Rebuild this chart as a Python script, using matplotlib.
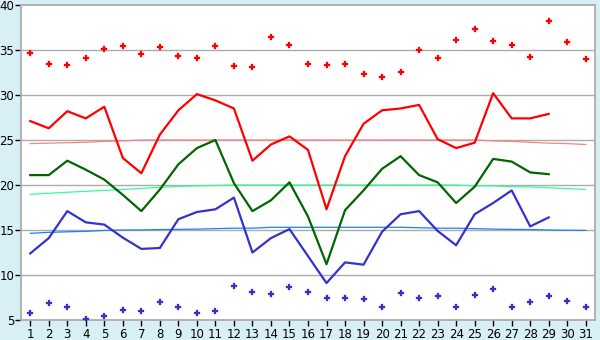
import matplotlib
matplotlib.use("Agg")
import matplotlib.pyplot as plt

days = list(range(1, 32))
max_points = [34.7, 33.5, 33.3, 34.1, 35.1, 35.4, 34.6, 35.3, 34.3, 34.1,
              35.5, 33.2, 33.1, 36.4, 35.6, 33.5, 33.3, 33.5, 32.3, 32.0,
              32.6, 35.0, 34.1, 36.1, 37.3, 36.0, 35.6, 34.2, 38.2, 35.9, 34.0]
min_points = [5.75, 6.85, 6.5, 5.07, 5.5, 6.07, 5.97, 6.97, 6.5, 5.75,
              5.97, 8.74, 8.07, 7.85, 8.63, 8.07, 7.4, 7.5, 7.3, 6.5,
              7.96, 7.4, 7.63, 6.4, 7.74, 8.4, 6.5, 6.97, 7.63, 7.07, 6.4]
max_line = [27.1, 26.3, 28.2, 27.4, 28.7, 23.0, 21.3, 25.6, 28.3, 30.1,
            29.4, 28.5, 22.7, 24.5, 25.4, 23.9, 17.3, 23.2, 26.8, 28.3,
            28.5, 28.9, 25.1, 24.1, 24.7, 30.2, 27.4, 27.4, 27.9]
mean_line = [21.1, 21.1, 22.7, 21.7, 20.6, 18.9, 17.1, 19.5, 22.3, 24.1,
             25.0, 20.2, 17.1, 18.3, 20.3, 16.5, 11.2, 17.2, 19.4, 21.8,
             23.2, 21.1, 20.3, 18.0, 19.8, 22.9, 22.6, 21.4, 21.2]
min_line = [12.4, 14.1, 17.1, 15.85, 15.6, 14.15, 12.9, 13.0, 16.2, 17.0,
            17.3, 18.6, 12.5, 14.1, 15.1, 12.1, 9.1, 11.4, 11.15, 14.8,
            16.75, 17.1, 14.9, 13.3, 16.75, 18.0, 19.4, 15.4, 16.4]
normal_max = [24.6, 24.65, 24.7, 24.75, 24.85, 24.9] + [25.0] * 19 + \
             [24.9, 24.85, 24.75, 24.65, 24.6, 24.5]
normal_mean = [18.97, 19.08, 19.19, 19.3, 19.4, 19.5, 19.63, 19.74, 19.85, 19.9,
               19.95] + [20.0] * 13 + [19.9, 19.9, 19.8, 19.8, 19.7, 19.6, 19.5]
normal_min = [14.63, 14.74, 14.8, 14.85, 14.95, 15.0, 15.0, 15.05, 15.07, 15.1,
              15.15, 15.2, 15.2, 15.3, 15.3, 15.3, 15.3, 15.3, 15.3, 15.3,
              15.3, 15.25, 15.2, 15.2, 15.15, 15.1, 15.07, 15.05, 15.0, 14.97, 14.96]
yticks = [5, 10, 15, 20, 25, 30, 35, 40]

bg = "#d9eff6"
fig = plt.figure(figsize=(6, 3.4), dpi=100, facecolor=bg)
ax = fig.add_axes([21/600, 20/340, 574/600, 315/340])
ax.set_facecolor("white")

for y in yticks[1:-1]:
    ax.axhline(y, color="#acacac", lw=1.0, zorder=1)

ax.plot(days, normal_max, color="#ff8080", lw=0.9, zorder=2)
ax.plot(days, normal_mean, color="#33ff99", lw=0.9, zorder=2)
ax.plot(days, normal_min, color="#1a80ff", lw=0.9, zorder=2)

n = len(max_line)
ax.plot(days[:n], max_line, color="#ff0000", lw=1.6, zorder=3)
ax.plot(days[:n], mean_line, color="#006600", lw=1.6, zorder=3)
ax.plot(days[:n], min_line, color="#3333cc", lw=1.6, zorder=3)

ax.plot(days, max_points, ls="none", marker="P", ms=4.2, color="#ff0000",
        mec="#ff0000", mew=0.2, zorder=4)
ax.plot(days, min_points, ls="none", marker="P", ms=4.2, color="#3333cc",
        mec="#3333cc", mew=0.2, zorder=4)

ax.set_xlim(0.5, 31.5)
ax.set_ylim(5, 40)
ax.set_xticks(days)
ax.set_xticklabels([str(d) for d in days])
ax.set_yticks(yticks)
ax.set_yticklabels([str(v) for v in yticks])
for s in ax.spines.values():
    s.set_color("#acacac")
    s.set_linewidth(1.3)
ax.tick_params(axis="both", colors="black", length=4, width=1,
               labelsize=8.5, pad=2)
ax.tick_params(axis="y", pad=1)

fig.savefig("out.png", dpi=100, facecolor=bg)
